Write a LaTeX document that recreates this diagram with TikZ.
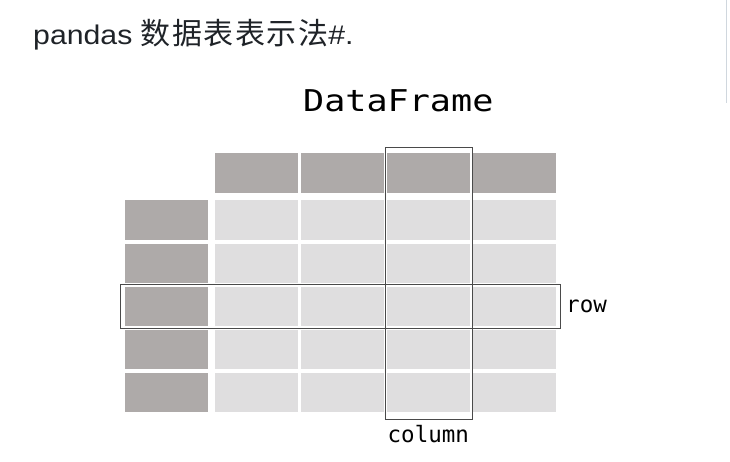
\documentclass[tikz,border=0pt]{standalone}
\usepackage{fontspec}
\setmonofont{DejaVu Sans Mono}
\newfontfamily\cjk[LetterSpace=5]{Noto Sans CJK SC}
\newfontfamily\latinfont[FakeStretch=1.12]{Liberation Sans}
\newfontfamily\dfmono[FakeStretch=1.17]{DejaVu Sans Mono}
\definecolor{hdr}{HTML}{AEAAA9}
\definecolor{cellc}{HTML}{DFDEDF}
\definecolor{framec}{HTML}{4A4A4A}
\definecolor{txt}{HTML}{1F2328}
\definecolor{edgec}{HTML}{D0D7DE}
\tikzset{
  hcell/.style={fill=hdr, draw=none, minimum width=83pt, minimum height=40pt, inner sep=0pt, anchor=north west},
  dcell/.style={fill=cellc, draw=none, minimum width=83pt, minimum height=39.5pt, inner sep=0pt, anchor=north west},
  icell/.style={fill=hdr, draw=none, minimum width=83pt, minimum height=39.5pt, inner sep=0pt, anchor=north west},
  selbox/.style={draw=framec, line width=1.1pt, fill=none, inner sep=0pt, anchor=north west},
  lbl/.style={inner sep=0pt, font=\ttfamily\fontsize{22.5}{26}\selectfont, text=black}
}
\begin{document}
\begin{tikzpicture}[x=1pt, y=-1pt]
\useasboundingbox (0,0) rectangle (730,462);
\fill[white] (0,0) rectangle (730,462);
% page edge line
\coordinate (e1) at (726.3,0);
\coordinate (e2) at (726.3,103);
\draw[edgec, line width=1.5pt] (e1) -- (e2);
% title
\node[anchor=base west, inner sep=0pt, text=txt] (title) at (33,44.3)
  {\latinfont\fontsize{27}{30}\selectfont pandas {\cjk\fontsize{30}{32}\selectfont 数据表表示法}\#.};
\node[anchor=base, inner sep=0pt] (df) at (398.3,111.7)
  {\dfmono\fontsize{30}{36}\selectfont DataFrame};
% header cells
\foreach \i/\x in {1/214.3, 2/300.5, 3/386.7, 4/473} {
  \node[hcell] (h\i) at (\x,153.3) {};
}
% index and data cells
\foreach \r in {1,...,5} {
  \pgfmathsetmacro{\y}{200.3+43*(\r-1)}
  \node[icell] (i\r) at (124.3,\y) {};
  \foreach \i/\x in {1/214.3, 2/300.5, 3/386.7, 4/473} {
    \node[dcell] (c\r\i) at (\x,\y) {};
  }
}
% selection boxes
\node[selbox, minimum width=440pt, minimum height=44pt] (rowbox) at (120.3,284.3) {};
\node[selbox, minimum width=87.3pt, minimum height=272.3pt] (colbox) at (384.7,146.7) {};
% labels
\node[lbl, anchor=base west] (rowlbl) at (566,312.3) {row};
\node[lbl, anchor=base] (collbl) at (428.3,442.3) {column};
\end{tikzpicture}
\end{document}
